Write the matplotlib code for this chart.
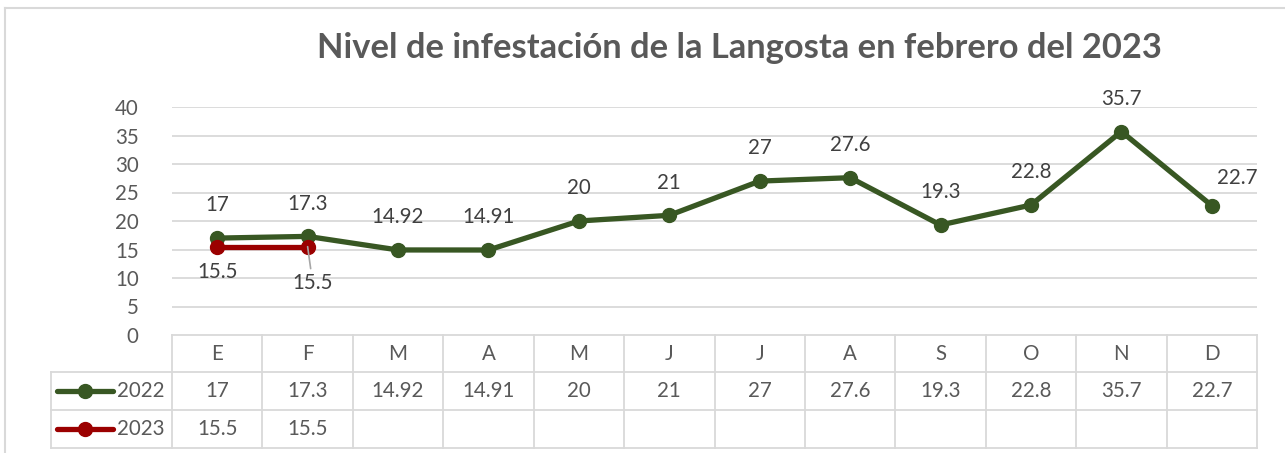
import matplotlib
matplotlib.use("Agg")
import matplotlib.pyplot as plt
from matplotlib.lines import Line2D
import numpy as np

months = ["E", "F", "M", "A", "M", "J", "J", "A", "S", "O", "N", "D"]
values_2022 = [17, 17.3, 14.92, 14.91, 20, 21, 27, 27.6, 19.3, 22.8, 35.7, 22.7]
values_2023 = [15.5, 15.5]
labels_2022 = ["17", "17.3", "14.92", "14.91", "20", "21", "27", "27.6", "19.3", "22.8", "35.7", "22.7"]
labels_2023 = ["15.5", "15.5"]
series_names = ["2022", "2023"]
yticks = [0, 5, 10, 15, 20, 25, 30, 35, 40]
title = "Nivel de infestación de la Langosta en febrero del 2023"

GREEN = "#385723"
RED = "#9b0000"
GRID = "#d9d9d9"
TXT = "#595959"
LBL = "#404040"
FS = 14.8

plt.rcParams['font.family'] = ['Lato', 'DejaVu Sans']

W, H = 1285, 453
fig = plt.figure(figsize=(W / 100, H / 100), dpi=100)

def fx(px):
    return px / W

def fy(py):
    return 1 - py / H

ax = fig.add_axes([fx(172), fy(335), fx(1257) - fx(172), (335 - 107) / H])
ax.set_xlim(-0.5, len(months) - 0.5)
ax.set_ylim(0, 40)
for s in ax.spines.values():
    s.set_visible(False)
ax.set_xticks([])
ax.set_yticks(yticks)
ax.tick_params(axis='y', length=0, pad=24, labelsize=FS, labelcolor=TXT)
for t in ax.get_yticklabels():
    t.set_horizontalalignment('right')
for yv in yticks[1:]:
    ax.axhline(yv, color=GRID, lw=1.3, zorder=0)

x = np.arange(len(months))
x23 = np.arange(len(values_2023))
ax.plot(x, values_2022, color=GREEN, lw=3.8, marker='o', ms=10, zorder=3,
        solid_capstyle='round')
ax.plot(x23, values_2023, color=RED, lw=3.8, marker='o', ms=10, zorder=4,
        solid_capstyle='round')

# data labels 2022
for i, (v, l) in enumerate(zip(values_2022, labels_2022)):
    if i == len(values_2022) - 1:
        off = (18, 20)
    else:
        off = (0, 23.5)
    ax.annotate(l, (i, v), xytext=off, textcoords='offset points',
                ha='center', va='center', fontsize=FS, color=LBL, zorder=5)
# data labels 2023
ax.annotate(labels_2023[0], (0, values_2023[0]), xytext=(0, -18.5),
            textcoords='offset points', ha='center', va='center',
            fontsize=FS, color=LBL, zorder=5)
ax.annotate(labels_2023[1], (1, values_2023[1]), xytext=(3.6, -26),
            textcoords='offset points', ha='center', va='center',
            fontsize=FS, color=LBL, zorder=5,
            arrowprops=dict(arrowstyle='-', color='#a6a6a6', lw=1.2,
                            shrinkA=1, shrinkB=0))

# table below the axes
tr = ax.get_xaxis_transform()
row_y = [0, -37 / 228, -75 / 228, -113 / 228]
left_x = -0.5 - 121 / 90.5
right_x = len(months) - 0.5
lw_t = 1.3
ax.add_line(Line2D([-0.5, right_x], [row_y[0], row_y[0]], transform=tr, color=GRID, lw=lw_t, clip_on=False))
for ry in row_y[1:]:
    ax.add_line(Line2D([left_x, right_x], [ry, ry], transform=tr, color=GRID, lw=lw_t, clip_on=False))
for i in range(len(months) + 1):
    xv = i - 0.5
    ax.add_line(Line2D([xv, xv], [row_y[0], row_y[-1]], transform=tr, color=GRID, lw=lw_t, clip_on=False))
ax.add_line(Line2D([left_x, left_x], [row_y[1], row_y[-1]], transform=tr, color=GRID, lw=lw_t, clip_on=False))

def mid(a, b):
    return (a + b) / 2

for i, m in enumerate(months):
    ax.text(i, mid(row_y[0], row_y[1]), m, transform=tr, ha='center', va='center',
            fontsize=FS, color=TXT)
for i, l in enumerate(labels_2022):
    ax.text(i, mid(row_y[1], row_y[2]), l, transform=tr, ha='center', va='center',
            fontsize=FS, color=TXT)
for i, l in enumerate(labels_2023):
    ax.text(i, mid(row_y[2], row_y[3]), l, transform=tr, ha='center', va='center',
            fontsize=FS, color=TXT)

# legend keys inside row headers
key_x0 = -0.5 - 115 / 90.5
key_x1 = -0.5 - 59 / 90.5
key_xm = -0.5 - 87 / 90.5
text_x = -0.5 - 55 / 90.5
for name, col, r in zip(series_names, [GREEN, RED], [1, 2]):
    yy = mid(row_y[r], row_y[r + 1])
    ax.add_line(Line2D([key_x0, key_x1], [yy, yy], transform=tr, color=col, lw=3.8,
                       solid_capstyle='round', clip_on=False))
    ax.add_line(Line2D([key_xm], [yy], transform=tr, color=col, marker='o', ms=10,
                       clip_on=False))
    ax.text(text_x, yy, name, transform=tr, ha='left', va='center', fontsize=FS, color=TXT)

# title
fig.text(fx(739), fy(48), title, ha='center', va='center', fontsize=24.8,
         fontweight='bold', color=TXT)

# outer frame
fig.add_artist(Line2D([fx(5), fx(W)], [fy(8), fy(8)], color=GRID, lw=1.5))
fig.add_artist(Line2D([fx(5), fx(5)], [fy(8), fy(H)], color=GRID, lw=1.5))

fig.savefig("out.png", dpi=100, facecolor='white')
